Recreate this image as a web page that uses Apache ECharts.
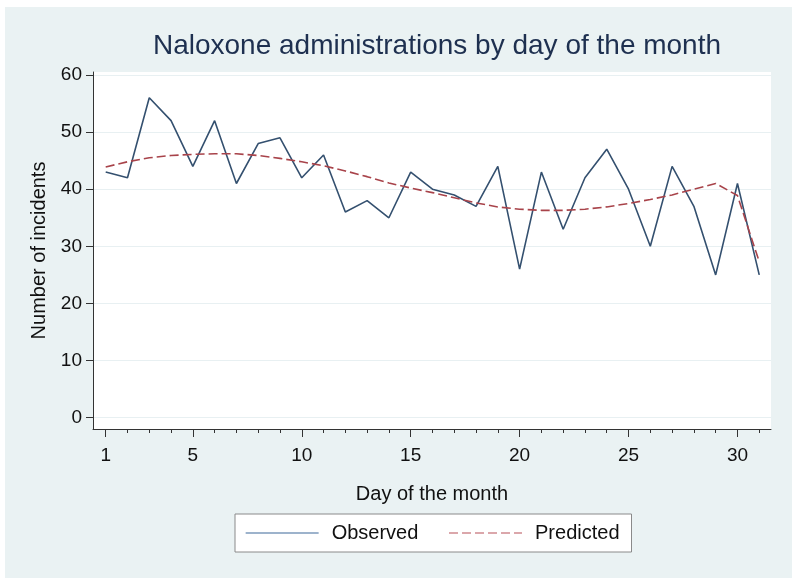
<!DOCTYPE html>
<html>
<head>
<meta charset="utf-8">
<script src="https://cdn.jsdelivr.net/npm/echarts@6/dist/echarts.min.js"></script>
<style>
  html, body { margin: 0; padding: 0; background: #ffffff; }
  #wrap { position: relative; width: 800px; height: 583px; background: #ffffff; }
  #panel { position: absolute; left: 5px; top: 7px; width: 787px; height: 571px; background: #eaf2f3; }
  #chart { position: absolute; left: 0; top: 0; width: 800px; height: 583px; }
</style>
</head>
<body>
<div id="wrap"><div id="panel"></div><div id="chart"></div></div>
<script>
// ---- data ----
var days = [1,2,3,4,5,6,7,8,9,10,11,12,13,14,15,16,17,18,19,20,21,22,23,24,25,26,27,28,29,30,31];
var observed = [43,42,56,52,44,52,41,48,49,42,46,36,38,35,43,40,39,37,44,26,43,33,42,47,40,30,44,37,25,41,25];
var predicted = [43.9,44.8,45.5,45.9,46.1,46.2,46.2,45.9,45.4,44.8,44.1,43.2,42.2,41.1,40.2,39.4,38.5,37.6,36.9,36.5,36.3,36.3,36.5,36.9,37.5,38.2,39.0,40.0,41.0,38.9,27.3];
var xMajorTicks = [1,5,10,15,20,25,30];
var yTicks = [0,10,20,30,40,50,60];
var seriesNames = ['Observed','Predicted'];

var FONT = '"Liberation Sans", Arial, sans-serif';
function pairs(xs, ys) { return xs.map(function (x, i) { return [x, ys[i]]; }); }

var chart = echarts.init(document.getElementById('chart'), null, { renderer: 'canvas' });
chart.setOption({
  backgroundColor: 'transparent',
  animation: false,
  title: {
    text: 'Naloxone administrations by day of the month',
    left: 432, top: 27, textAlign: 'center',
    textStyle: { fontFamily: FONT, fontSize: 28, fontWeight: 'normal', color: '#1e3050' }
  },
  grid: {
    left: 93, right: 29, top: 72, bottom: 154,
    show: true, backgroundColor: '#ffffff', borderWidth: 0
  },
  xAxis: [{
    type: 'value', min: 0.417, max: 31.54,
    name: 'Day of the month', nameLocation: 'middle', nameGap: 55,
    nameTextStyle: { fontFamily: FONT, fontSize: 20, color: '#111' },
    axisLine: { show: true, onZero: false, lineStyle: { color: '#333', width: 1 } },
    axisTick: { show: true, customValues: xMajorTicks, length: 8, lineStyle: { color: '#333' } },
    axisLabel: { customValues: xMajorTicks, margin: 17, fontFamily: FONT, fontSize: 19, color: '#111' },
    splitLine: { show: false }
  }, {
    type: 'value', min: 0.417, max: 31.54, position: 'bottom', offset: 0,
    axisLine: { show: false, onZero: false },
    axisTick: { show: true, customValues: days, length: 4, lineStyle: { color: '#333' } },
    axisLabel: { show: false },
    splitLine: { show: false }
  }],
  yAxis: {
    type: 'value', min: -1.98, max: 60.52,
    name: 'Number of incidents', nameLocation: 'middle', nameRotate: 90, nameGap: 43,
    nameTextStyle: { fontFamily: FONT, fontSize: 20, color: '#111' },
    axisLine: { show: true, onZero: false, lineStyle: { color: '#333', width: 1 } },
    axisTick: { show: true, customValues: yTicks, length: 7, lineStyle: { color: '#333' } },
    axisLabel: { customValues: yTicks, margin: 11, fontFamily: FONT, fontSize: 19, color: '#111' },
    splitLine: { show: true, lineStyle: { color: '#e8f0f2', width: 1 } }
  },
  legend: {
    show: true,
    left: 235, top: 514,
    padding: [8, 12, 8, 10],
    backgroundColor: '#ffffff', borderColor: '#8a8a8a', borderWidth: 1,
    itemWidth: 73, itemHeight: 14, itemGap: 30,
    textStyle: { fontFamily: FONT, fontSize: 20, color: '#111', lineHeight: 22, padding: [0, 0, 0, 8] },
    data: [
      { name: seriesNames[0], itemStyle: { opacity: 0 }, lineStyle: { color: '#7d9abb', width: 1.3 } },
      { name: seriesNames[1], itemStyle: { opacity: 0 }, lineStyle: { color: '#cf8a90', width: 1.3 } }
    ]
  },
  series: [{
    name: seriesNames[0], type: 'line', xAxisIndex: 0,
    data: pairs(days, observed),
    symbol: 'none', z: 2,
    lineStyle: { color: '#34506f', width: 1.6 },
    itemStyle: { color: '#34506f' }
  }, {
    name: seriesNames[1], type: 'line', xAxisIndex: 0,
    data: pairs(days, predicted),
    symbol: 'none', z: 3,
    lineStyle: { color: '#a8434a', width: 1.6, type: [9, 4] },
    itemStyle: { color: '#a8434a' }
  }]
});
</script>
</body>
</html>
